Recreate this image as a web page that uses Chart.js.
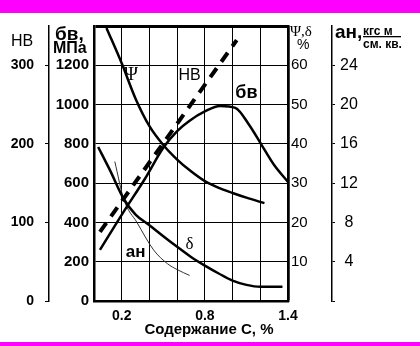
<!DOCTYPE html>
<html>
<head>
<meta charset="utf-8">
<script src="https://cdn.jsdelivr.net/npm/chart.js@4.4.1/dist/chart.umd.min.js"></script>
<style>
  html, body { margin: 0; padding: 0; background: #fff; }
  canvas { display: block; }
</style>
</head>
<body>
<canvas id="steelChart" width="420" height="346"></canvas>
<script>
// --- Data (carbon content, %) ---
const psiC = [0.09, 0.2, 0.3, 0.4, 0.5, 0.6, 0.7, 0.8, 0.9, 1.0, 1.1, 1.23];
const psiVal = [69.5, 60.5, 51.5, 44.5, 39.7, 36.0, 33.0, 30.5, 28.8, 27.5, 26.3, 24.9];

const deltaC = [0.03, 0.115, 0.216, 0.3, 0.4, 0.5, 0.6, 0.7, 0.8, 0.9, 1.0, 1.1, 1.2, 1.36];
const deltaVal = [39.2, 33.3, 25.9, 22.0, 19.3, 16.5, 13.8, 11.2, 9.0, 7.0, 5.2, 4.1, 3.6, 3.6];

const sigmaC = [0.043, 0.21, 0.37, 0.5, 0.6, 0.69, 0.8, 0.91, 1.02, 1.12, 1.21, 1.3, 1.4];
const sigmaVal = [260, 450, 625, 780, 865, 918, 965, 993, 983, 896, 794, 692, 606];

const hbC = [0.043, 1.03];
const hbVal = [88, 332];

const anC = [0.15, 0.216, 0.31, 0.43, 0.53, 0.6, 0.69];
const anVal = [14.2, 10.3, 8.0, 5.2, 3.8, 3.2, 2.6];

const xLabelled = [0.2, 0.8, 1.4];

const FONT = "'Liberation Sans', Arial, sans-serif";
const SERIF = "'Liberation Serif', 'DejaVu Serif', serif";

const toPoints = (xs, ys) => xs.map((x, i) => ({ x: x, y: ys[i] }));

// --- Decorations: magenta bars, headers and curve labels ---
const framePlugin = {
    id: 'frame',
    beforeDraw(chart) {
        const ctx = chart.ctx;
        ctx.save();
        ctx.fillStyle = '#fff';
        ctx.fillRect(0, 0, chart.width, chart.height);
        ctx.fillStyle = '#ff00ff';
        ctx.fillRect(0, 0, chart.width, 13);
        ctx.fillRect(0, 342, chart.width, 4);
        ctx.restore();
    },
    afterDraw(chart) {
        const ctx = chart.ctx;
        const { x, yMPa } = chart.scales;
        ctx.save();
        ctx.fillStyle = '#000';
        ctx.textBaseline = 'alphabetic';

        // axis headers
        ctx.textAlign = 'left';
        ctx.font = `16px ${FONT}`;
        ctx.fillText('НВ', 11, 46);
        ctx.font = `bold 19px ${FONT}`;
        ctx.fillText('бв,', 55, 40);
        ctx.font = `bold 16px ${FONT}`;
        ctx.fillText('МПа', 53, 53);

        ctx.font = `15px ${SERIF}`;
        ctx.fillText('Ψ,δ', 290, 36);
        ctx.font = `14px ${FONT}`;
        ctx.fillText('%', 297, 49);

        ctx.font = `bold 19px ${FONT}`;
        ctx.fillText('ан,', 335, 38);
        ctx.font = `bold 12px ${FONT}`;
        ctx.fillText('кгс м', 363, 35);
        ctx.fillRect(363, 36, 38, 1.3);
        ctx.fillText('см. кв.', 363, 48);

        // x axis title
        ctx.textAlign = 'center';
        ctx.font = `bold 15px ${FONT}`;
        ctx.fillText('Содержание С, %', 209, 334);

        // curve labels (data coordinates)
        const labels = [
            { text: 'Ψ', c: 0.267, v: 1150, font: `19px ${SERIF}` },
            { text: 'НВ', c: 0.69, v: 1150, font: `16px ${FONT}` },
            { text: 'бв', c: 1.10, v: 1060, font: `bold 18px ${FONT}` },
            { text: 'δ', c: 0.69, v: 285, font: `17px ${SERIF}` },
            { text: 'ан', c: 0.3, v: 250, font: `bold 17px ${FONT}` }
        ];
        ctx.textBaseline = 'middle';
        labels.forEach(l => {
            ctx.font = l.font;
            ctx.fillText(l.text, x.getPixelForValue(l.c), yMPa.getPixelForValue(l.v));
        });
        ctx.restore();
    }
};

const lineStyle = {
    borderColor: '#000',
    borderWidth: 2.5,
    pointRadius: 0,
    fill: false,
    cubicInterpolationMode: 'monotone'
};

const ctx = document.getElementById('steelChart').getContext('2d');
const steelChart = new Chart(ctx, {
    type: 'line',
    data: {
        datasets: [
            { ...lineStyle, label: 'Ψ', yAxisID: 'yPct', data: toPoints(psiC, psiVal) },
            { ...lineStyle, label: 'δ', yAxisID: 'yPct', data: toPoints(deltaC, deltaVal) },
            { ...lineStyle, label: 'бв', yAxisID: 'yMPa', data: toPoints(sigmaC, sigmaVal) },
            { ...lineStyle, label: 'НВ', yAxisID: 'yHB', data: toPoints(hbC, hbVal),
              borderWidth: 4, borderDash: [11, 8], borderCapStyle: 'butt' },
            { ...lineStyle, label: 'ан', yAxisID: 'yAn', data: toPoints(anC, anVal),
              borderWidth: 1, borderColor: '#333' }
        ]
    },
    options: {
        responsive: false,
        animation: false,
        devicePixelRatio: 1,
        layout: { padding: { top: 26, left: 0, right: 0, bottom: 0 } },
        plugins: {
            legend: { display: false },
            tooltip: { enabled: false }
        },
        scales: {
            x: {
                type: 'linear',
                min: 0,
                max: 1.4,
                ticks: {
                    stepSize: 0.2,
                    padding: 7,
                    autoSkip: false,
                    maxRotation: 0,
                    color: '#000',
                    font: { family: FONT, size: 14, weight: 'bold' },
                    callback: v => xLabelled.some(l => Math.abs(l - v) < 1e-6) ? v.toFixed(1) : ''
                },
                grid: {
                    color: '#000',
                    lineWidth: c => (c.tick && Math.abs(c.tick.value - 1.4) < 1e-6) ? 2.5 : 1,
                    drawTicks: false
                },
                border: { color: '#000', width: 2.5 },
                afterFit: s => { s.height = 45; }
            },
            yMPa: {
                position: 'left',
                weight: 0,
                min: 0,
                max: 1400,
                ticks: {
                    stepSize: 200,
                    padding: 5,
                    color: '#000',
                    font: { family: FONT, size: 15, weight: 'bold' },
                    callback: v => v === 1400 ? '' : v
                },
                grid: {
                    color: '#000',
                    lineWidth: c => (c.tick && c.tick.value === 1400) ? 3 : 1,
                    drawTicks: false
                },
                border: { color: '#000', width: 2.5 },
                afterFit: s => { s.width = 45; }
            },
            yHB: {
                position: 'left',
                weight: 1,
                min: 0,
                max: 350,
                afterBuildTicks: s => { s.ticks = s.ticks.filter(t => t.value <= 300); },
                ticks: {
                    stepSize: 100,
                    padding: 11,
                    color: '#000',
                    font: { family: FONT, size: 14, weight: 'bold' }
                },
                grid: { drawOnChartArea: false, color: '#000', tickLength: 4 },
                border: { color: '#000', width: 1.5 },
                afterFit: s => { s.width = 49; }
            },
            yPct: {
                position: 'right',
                weight: 0,
                min: 0,
                max: 70,
                ticks: {
                    stepSize: 10,
                    padding: 3,
                    color: '#000',
                    font: { family: FONT, size: 15 },
                    callback: v => (v === 0 || v === 70) ? '' : v
                },
                grid: { drawOnChartArea: false, drawTicks: false },
                border: { color: '#000', width: 2.5 },
                afterFit: s => { s.width = 44; }
            },
            yAn: {
                position: 'right',
                weight: 1,
                min: 0,
                max: 28,
                afterBuildTicks: s => { s.ticks = s.ticks.filter(t => t.value <= 24); },
                ticks: {
                    stepSize: 4,
                    padding: 5,
                    crossAlign: 'center',
                    color: '#000',
                    font: { family: FONT, size: 16 },
                    callback: v => v === 0 ? '' : v
                },
                grid: { drawOnChartArea: false, color: '#000', tickLength: 3 },
                border: { color: '#000', width: 1.5 },
                afterFit: s => { s.width = 88; }
            }
        }
    },
    plugins: [framePlugin]
});
</script>
</body>
</html>
